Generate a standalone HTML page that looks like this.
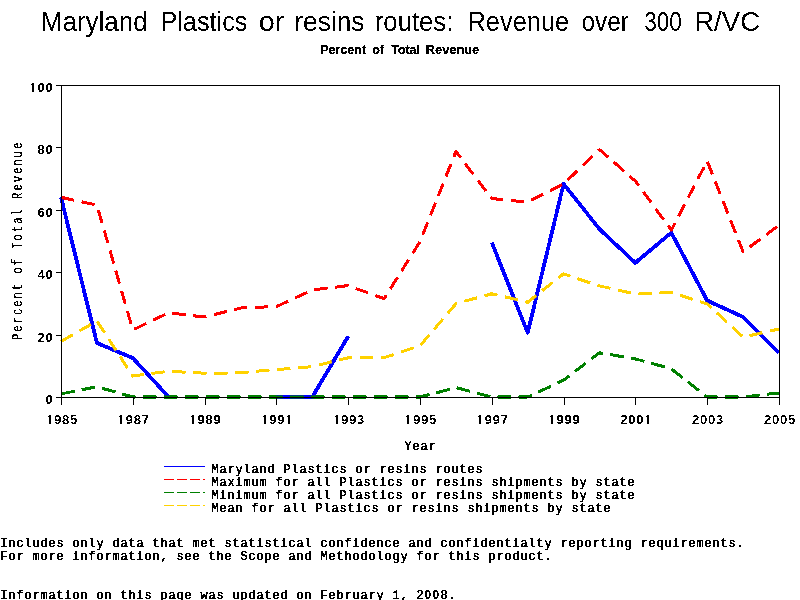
<!DOCTYPE html>
<html><head><meta charset="utf-8"><style>
html,body{margin:0;padding:0;background:#fff;}
body{width:800px;height:600px;overflow:hidden;}
svg{display:block;}
.mono{font-family:"Liberation Mono",monospace;white-space:pre;}
.sans{font-family:"Liberation Sans",sans-serif;}
</style></head><body>
<svg width="800" height="600" viewBox="0 0 800 600">
<rect x="0" y="0" width="800" height="600" fill="#fff"/>
<defs><filter id="bin" x="0" y="0" width="800" height="600" filterUnits="userSpaceOnUse" color-interpolation-filters="sRGB"><feComponentTransfer><feFuncA type="discrete" tableValues="0 1"/></feComponentTransfer></filter></defs>
<g filter="url(#bin)">

<text class="sans" x="40.87" y="31" font-size="27.6" textLength="106.80" lengthAdjust="spacingAndGlyphs" fill="#000">Maryland</text>
<text class="sans" x="160.43" y="31" font-size="27.6" textLength="86.98" lengthAdjust="spacingAndGlyphs" fill="#000">Plastics</text>
<text class="sans" x="258.79" y="31" font-size="27.6" textLength="25.69" lengthAdjust="spacingAndGlyphs" fill="#000">or</text>
<text class="sans" x="294.25" y="31" font-size="27.6" textLength="70.20" lengthAdjust="spacingAndGlyphs" fill="#000">resins</text>
<text class="sans" x="374.79" y="31" font-size="27.6" textLength="78.55" lengthAdjust="spacingAndGlyphs" fill="#000">routes:</text>
<text class="sans" x="467.52" y="31" font-size="27.6" textLength="101.61" lengthAdjust="spacingAndGlyphs" fill="#000">Revenue</text>
<text class="sans" x="581.48" y="31" font-size="27.6" textLength="47.43" lengthAdjust="spacingAndGlyphs" fill="#000">over</text>
<text class="sans" x="644.14" y="31" font-size="27.6" textLength="37.75" lengthAdjust="spacingAndGlyphs" fill="#000">300</text>
<text class="sans" x="694.24" y="31" font-size="27.6" textLength="65.81" lengthAdjust="spacingAndGlyphs" fill="#000">R/VC</text>
<text class="sans" x="320.16" y="54" font-size="13" font-weight="bold" textLength="45.99" lengthAdjust="spacingAndGlyphs" fill="#000" stroke="#000" stroke-width="0.25">Percent</text>
<text class="sans" x="372.53" y="54" font-size="13" font-weight="bold" textLength="11.45" lengthAdjust="spacingAndGlyphs" fill="#000" stroke="#000" stroke-width="0.25">of</text>
<text class="sans" x="391.47" y="54" font-size="13" font-weight="bold" textLength="28.17" lengthAdjust="spacingAndGlyphs" fill="#000" stroke="#000" stroke-width="0.25">Total</text>
<text class="sans" x="425.84" y="54" font-size="13" font-weight="bold" textLength="53.39" lengthAdjust="spacingAndGlyphs" fill="#000" stroke="#000" stroke-width="0.25">Revenue</text>
<polyline points="61.0,197.3 96.9,343.0 132.8,358.0 168.7,397.0" fill="none" stroke="#0000ff" stroke-width="3.8" stroke-linejoin="round" stroke-linecap="butt"/>
<polyline points="276.4,397.0 312.3,397.0 348.2,336.2" fill="none" stroke="#0000ff" stroke-width="3.8" stroke-linejoin="round" stroke-linecap="butt"/>
<polyline points="491.8,242.6 527.7,332.7 563.6,183.9 599.5,229.1 635.4,262.8 671.3,232.6 707.2,300.6 743.1,317.1 779.0,353.0" fill="none" stroke="#0000ff" stroke-width="3.8" stroke-linejoin="round" stroke-linecap="butt"/>
<polyline points="61.0,393.9 96.9,386.7 132.8,397.0 168.7,397.0 204.6,397.0 240.5,397.0 276.4,397.0 312.3,397.0 348.2,397.0 384.1,397.0 420.0,397.0 455.9,387.6 491.8,397.0 527.7,397.0 563.6,380.2 599.5,352.7 635.4,358.9 671.3,368.9 707.2,397.0 743.1,397.0 779.0,392.9" fill="none" stroke="#008000" stroke-width="3" stroke-dasharray="14 7" stroke-linecap="butt" stroke-linejoin="round"/>
<polyline points="61.0,197.3 96.9,205.1 132.8,329.9 168.7,312.8 204.6,317.1 240.5,308.1 276.4,306.5 312.3,290.0 348.2,285.6 384.1,298.7 420.0,241.6 455.9,151.5 491.8,198.6 527.7,202.0 563.6,183.9 599.5,149.6 635.4,181.1 671.3,230.1 707.2,161.1 743.1,251.9 779.0,225.1" fill="none" stroke="#ff0000" stroke-width="3" stroke-dasharray="13.5 7.5" stroke-linecap="butt" stroke-linejoin="round"/>
<polyline points="61.0,341.5 96.9,320.9 132.8,376.1 168.7,371.1 204.6,373.3 240.5,372.7 276.4,369.5 312.3,366.7 348.2,357.7 384.1,357.7 420.0,345.8 455.9,303.7 491.8,293.7 527.7,302.2 563.6,273.8 599.5,285.9 635.4,294.0 671.3,292.5 707.2,304.0 743.1,337.1 779.0,329.0" fill="none" stroke="#ffd200" stroke-width="3" stroke-dasharray="13.5 7.5" stroke-linecap="butt" stroke-linejoin="round"/>
<g shape-rendering="crispEdges" stroke="#000" stroke-width="1" fill="none">
<rect x="61.5" y="85.5" width="718" height="312"/>
<line x1="56" y1="85.5" x2="61" y2="85.5"/>
<line x1="56" y1="147.5" x2="61" y2="147.5"/>
<line x1="56" y1="210.5" x2="61" y2="210.5"/>
<line x1="56" y1="272.5" x2="61" y2="272.5"/>
<line x1="56" y1="335.5" x2="61" y2="335.5"/>
<line x1="56" y1="397.5" x2="61" y2="397.5"/>
<line x1="61.5" y1="397" x2="61.5" y2="405"/>
<line x1="133.5" y1="397" x2="133.5" y2="405"/>
<line x1="205.5" y1="397" x2="205.5" y2="405"/>
<line x1="276.5" y1="397" x2="276.5" y2="405"/>
<line x1="348.5" y1="397" x2="348.5" y2="405"/>
<line x1="420.5" y1="397" x2="420.5" y2="405"/>
<line x1="492.5" y1="397" x2="492.5" y2="405"/>
<line x1="564.5" y1="397" x2="564.5" y2="405"/>
<line x1="635.5" y1="397" x2="635.5" y2="405"/>
<line x1="707.5" y1="397" x2="707.5" y2="405"/>
<line x1="779.5" y1="397" x2="779.5" y2="405"/>
</g>
<rect x="32" y="83" width="2" height="9" fill="#000"/><rect x="31" y="84" width="1" height="1" fill="#000"/><text class="sans" x="37.39" y="92.0" font-size="13.00" font-weight="bold" fill="#000">0</text><text class="sans" x="45.39" y="92.0" font-size="13.00" font-weight="bold" fill="#000">0</text>
<text class="sans" x="37.39" y="154.0" font-size="13.00" font-weight="bold" fill="#000">8</text><text class="sans" x="45.39" y="154.0" font-size="13.00" font-weight="bold" fill="#000">0</text>
<text class="sans" x="37.39" y="217.0" font-size="13.00" font-weight="bold" fill="#000">6</text><text class="sans" x="45.39" y="217.0" font-size="13.00" font-weight="bold" fill="#000">0</text>
<text class="sans" x="37.39" y="279.0" font-size="13.00" font-weight="bold" fill="#000">4</text><text class="sans" x="45.39" y="279.0" font-size="13.00" font-weight="bold" fill="#000">0</text>
<text class="sans" x="37.39" y="342.0" font-size="13.00" font-weight="bold" fill="#000">2</text><text class="sans" x="45.39" y="342.0" font-size="13.00" font-weight="bold" fill="#000">0</text>
<text class="sans" x="45.39" y="404.0" font-size="13.00" font-weight="bold" fill="#000">0</text>
<rect x="49" y="415" width="2" height="9" fill="#000"/><rect x="48" y="416" width="1" height="1" fill="#000"/><text class="sans" x="53.89" y="424.0" font-size="13.00" font-weight="bold" fill="#000">9</text><text class="sans" x="61.89" y="424.0" font-size="13.00" font-weight="bold" fill="#000">8</text><text class="sans" x="69.89" y="424.0" font-size="13.00" font-weight="bold" fill="#000">5</text>
<rect x="120" y="415" width="2" height="9" fill="#000"/><rect x="119" y="416" width="1" height="1" fill="#000"/><text class="sans" x="125.69" y="424.0" font-size="13.00" font-weight="bold" fill="#000">9</text><text class="sans" x="133.69" y="424.0" font-size="13.00" font-weight="bold" fill="#000">8</text><text class="sans" x="141.69" y="424.0" font-size="13.00" font-weight="bold" fill="#000">7</text>
<rect x="192" y="415" width="2" height="9" fill="#000"/><rect x="191" y="416" width="1" height="1" fill="#000"/><text class="sans" x="197.49" y="424.0" font-size="13.00" font-weight="bold" fill="#000">9</text><text class="sans" x="205.49" y="424.0" font-size="13.00" font-weight="bold" fill="#000">8</text><text class="sans" x="213.49" y="424.0" font-size="13.00" font-weight="bold" fill="#000">9</text>
<rect x="264" y="415" width="2" height="9" fill="#000"/><rect x="263" y="416" width="1" height="1" fill="#000"/><text class="sans" x="269.29" y="424.0" font-size="13.00" font-weight="bold" fill="#000">9</text><text class="sans" x="277.29" y="424.0" font-size="13.00" font-weight="bold" fill="#000">9</text><rect x="288" y="415" width="2" height="9" fill="#000"/><rect x="287" y="416" width="1" height="1" fill="#000"/>
<rect x="336" y="415" width="2" height="9" fill="#000"/><rect x="335" y="416" width="1" height="1" fill="#000"/><text class="sans" x="341.09" y="424.0" font-size="13.00" font-weight="bold" fill="#000">9</text><text class="sans" x="349.09" y="424.0" font-size="13.00" font-weight="bold" fill="#000">9</text><text class="sans" x="357.09" y="424.0" font-size="13.00" font-weight="bold" fill="#000">3</text>
<rect x="407" y="415" width="2" height="9" fill="#000"/><rect x="406" y="416" width="1" height="1" fill="#000"/><text class="sans" x="412.89" y="424.0" font-size="13.00" font-weight="bold" fill="#000">9</text><text class="sans" x="420.89" y="424.0" font-size="13.00" font-weight="bold" fill="#000">9</text><text class="sans" x="428.89" y="424.0" font-size="13.00" font-weight="bold" fill="#000">5</text>
<rect x="479" y="415" width="2" height="9" fill="#000"/><rect x="478" y="416" width="1" height="1" fill="#000"/><text class="sans" x="484.69" y="424.0" font-size="13.00" font-weight="bold" fill="#000">9</text><text class="sans" x="492.69" y="424.0" font-size="13.00" font-weight="bold" fill="#000">9</text><text class="sans" x="500.69" y="424.0" font-size="13.00" font-weight="bold" fill="#000">7</text>
<rect x="551" y="415" width="2" height="9" fill="#000"/><rect x="550" y="416" width="1" height="1" fill="#000"/><text class="sans" x="556.49" y="424.0" font-size="13.00" font-weight="bold" fill="#000">9</text><text class="sans" x="564.49" y="424.0" font-size="13.00" font-weight="bold" fill="#000">9</text><text class="sans" x="572.49" y="424.0" font-size="13.00" font-weight="bold" fill="#000">9</text>
<text class="sans" x="620.29" y="424.0" font-size="13.00" font-weight="bold" fill="#000">2</text><text class="sans" x="628.29" y="424.0" font-size="13.00" font-weight="bold" fill="#000">0</text><text class="sans" x="636.29" y="424.0" font-size="13.00" font-weight="bold" fill="#000">0</text><rect x="647" y="415" width="2" height="9" fill="#000"/><rect x="646" y="416" width="1" height="1" fill="#000"/>
<text class="sans" x="692.09" y="424.0" font-size="13.00" font-weight="bold" fill="#000">2</text><text class="sans" x="700.09" y="424.0" font-size="13.00" font-weight="bold" fill="#000">0</text><text class="sans" x="708.09" y="424.0" font-size="13.00" font-weight="bold" fill="#000">0</text><text class="sans" x="716.09" y="424.0" font-size="13.00" font-weight="bold" fill="#000">3</text>
<text class="sans" x="763.89" y="424.0" font-size="13.00" font-weight="bold" fill="#000">2</text><text class="sans" x="771.89" y="424.0" font-size="13.00" font-weight="bold" fill="#000">0</text><text class="sans" x="779.89" y="424.0" font-size="13.00" font-weight="bold" fill="#000">0</text><text class="sans" x="787.89" y="424.0" font-size="13.00" font-weight="bold" fill="#000">5</text>
<text class="mono" transform="scale(0.880,1)" x="459.56 468.65 477.74 486.83" y="450.0" font-size="13.60" stroke="#000" stroke-width="0.45" fill="#000">Year</text>
<g transform="translate(22,340.5) rotate(-90)"><text class="mono" transform="scale(0.720,1)" x="0.69 12.22 23.75 35.27 46.80 58.33 69.86 81.38 92.91 104.44 115.97 127.50 139.02 150.55 162.08 173.61 185.13 196.66 208.19 219.72 231.25 242.77 254.30 265.83" y="0.0" font-size="14.60" stroke="#000" stroke-width="0.35" fill="#000">Percent of Total Revenue</text></g>
<line shape-rendering="crispEdges" x1="164" y1="466.5" x2="205" y2="466.5" stroke="#0000ff" stroke-width="1"/>
<text class="mono" transform="scale(0.880,1)" x="240.24 249.33 258.42 267.51 276.60 285.69 294.78 303.87 312.97 322.06 331.15 340.24 349.33 358.42 367.51 376.60 385.69 394.78 403.87 412.97 422.06 431.15 440.24 449.33 458.42 467.51 476.60 485.69 494.78 503.87 512.97 522.06 531.15 540.24" y="473.0" font-size="13.60" stroke="#000" stroke-width="0.45" fill="#000">Maryland Plastics or resins routes</text>
<line shape-rendering="crispEdges" x1="164" y1="479.5" x2="205" y2="479.5" stroke="#ff0000" stroke-width="1" stroke-dasharray="9.5 3.5"/>
<text class="mono" transform="scale(0.880,1)" x="240.24 249.33 258.42 267.51 276.60 285.69 294.78 303.87 312.97 322.06 331.15 340.24 349.33 358.42 367.51 376.60 385.69 394.78 403.87 412.97 422.06 431.15 440.24 449.33 458.42 467.51 476.60 485.69 494.78 503.87 512.97 522.06 531.15 540.24 549.33 558.42 567.51 576.60 585.69 594.78 603.87 612.97 622.06 631.15 640.24 649.33 658.42 667.51 676.60 685.69 694.78 703.87 712.97" y="486.0" font-size="13.60" stroke="#000" stroke-width="0.45" fill="#000">Maximum for all Plastics or resins shipments by state</text>
<line shape-rendering="crispEdges" x1="164" y1="492.5" x2="205" y2="492.5" stroke="#008000" stroke-width="1" stroke-dasharray="9.5 3.5"/>
<text class="mono" transform="scale(0.880,1)" x="240.24 249.33 258.42 267.51 276.60 285.69 294.78 303.87 312.97 322.06 331.15 340.24 349.33 358.42 367.51 376.60 385.69 394.78 403.87 412.97 422.06 431.15 440.24 449.33 458.42 467.51 476.60 485.69 494.78 503.87 512.97 522.06 531.15 540.24 549.33 558.42 567.51 576.60 585.69 594.78 603.87 612.97 622.06 631.15 640.24 649.33 658.42 667.51 676.60 685.69 694.78 703.87 712.97" y="499.0" font-size="13.60" stroke="#000" stroke-width="0.45" fill="#000">Minimum for all Plastics or resins shipments by state</text>
<line shape-rendering="crispEdges" x1="164" y1="505.5" x2="205" y2="505.5" stroke="#ffd200" stroke-width="1" stroke-dasharray="9.5 3.5"/>
<text class="mono" transform="scale(0.880,1)" x="240.24 249.33 258.42 267.51 276.60 285.69 294.78 303.87 312.97 322.06 331.15 340.24 349.33 358.42 367.51 376.60 385.69 394.78 403.87 412.97 422.06 431.15 440.24 449.33 458.42 467.51 476.60 485.69 494.78 503.87 512.97 522.06 531.15 540.24 549.33 558.42 567.51 576.60 585.69 594.78 603.87 612.97 622.06 631.15 640.24 649.33 658.42 667.51 676.60 685.69" y="512.0" font-size="13.60" stroke="#000" stroke-width="0.45" fill="#000">Mean for all Plastics or resins shipments by state</text>
<text class="mono" transform="scale(0.880,1)" x="0.47 9.56 18.65 27.74 36.83 45.92 55.01 64.10 73.19 82.28 91.37 100.47 109.56 118.65 127.74 136.83 145.92 155.01 164.10 173.19 182.28 191.37 200.47 209.56 218.65 227.74 236.83 245.92 255.01 264.10 273.19 282.28 291.37 300.47 309.56 318.65 327.74 336.83 345.92 355.01 364.10 373.19 382.28 391.37 400.47 409.56 418.65 427.74 436.83 445.92 455.01 464.10 473.19 482.28 491.37 500.47 509.56 518.65 527.74 536.83 545.92 555.01 564.10 573.19 582.28 591.37 600.47 609.56 618.65 627.74 636.83 645.92 655.01 664.10 673.19 682.28 691.37 700.47 709.56 718.65 727.74 736.83 745.92 755.01 764.10 773.19 782.28 791.37 800.47 809.56 818.65 827.74 836.83" y="547.0" font-size="13.60" stroke="#000" stroke-width="0.45" fill="#000">Includes only data that met statistical confidence and confidentialty reporting requirements.</text>
<text class="mono" transform="scale(0.880,1)" x="0.47 9.56 18.65 27.74 36.83 45.92 55.01 64.10 73.19 82.28 91.37 100.47 109.56 118.65 127.74 136.83 145.92 155.01 164.10 173.19 182.28 191.37 200.47 209.56 218.65 227.74 236.83 245.92 255.01 264.10 273.19 282.28 291.37 300.47 309.56 318.65 327.74 336.83 345.92 355.01 364.10 373.19 382.28 391.37 400.47 409.56 418.65 427.74 436.83 445.92 455.01 464.10 473.19 482.28 491.37 500.47 509.56 518.65 527.74 536.83 545.92 555.01 564.10 573.19 582.28 591.37 600.47 609.56 618.65" y="560.0" font-size="13.60" stroke="#000" stroke-width="0.45" fill="#000">For more information, see the Scope and Methodology for this product.</text>
<text class="mono" transform="scale(0.880,1)" x="0.47 9.56 18.65 27.74 36.83 45.92 55.01 64.10 73.19 82.28 91.37 100.47 109.56 118.65 127.74 136.83 145.92 155.01 164.10 173.19 182.28 191.37 200.47 209.56 218.65 227.74 236.83 245.92 255.01 264.10 273.19 282.28 291.37 300.47 309.56 318.65 327.74 336.83 345.92 355.01 364.10 373.19 382.28 391.37 400.47 409.56 418.65 427.74 436.83 445.92 455.01 464.10 473.19 482.28 491.37 500.47 509.56" y="599.0" font-size="13.60" stroke="#000" stroke-width="0.45" fill="#000">Information on this page was updated on February 1, 2<tspan font-family="Liberation Sans" font-weight="bold" stroke-width="0">0</tspan><tspan font-family="Liberation Sans" font-weight="bold" stroke-width="0">0</tspan>8.</text>
</g></svg></body></html>
